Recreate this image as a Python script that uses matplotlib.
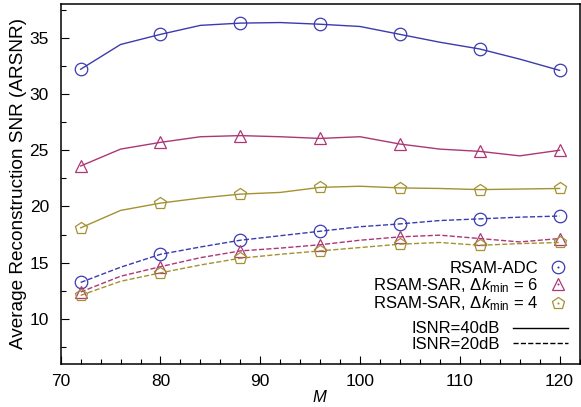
import matplotlib
matplotlib.use("Agg")
import matplotlib.pyplot as plt
from matplotlib.lines import Line2D
from matplotlib.ticker import MultipleLocator

# data
M = [72, 76, 80, 84, 88, 92, 96, 100, 104, 108, 112, 116, 120]

adc_40 = [32.2, 34.4, 35.3, 36.1, 36.3, 36.35, 36.2, 36.0, 35.3, 34.6, 34.0, 33.1, 32.1]
sar6_40 = [23.6, 25.1, 25.7, 26.2, 26.3, 26.2, 26.05, 26.2, 25.55, 25.1, 24.9, 24.5, 25.0]
sar4_40 = [18.1, 19.65, 20.3, 20.75, 21.1, 21.25, 21.7, 21.8, 21.65, 21.6, 21.5, 21.55, 21.6]

adc_20 = [13.25, 14.6, 15.75, 16.4, 17.0, 17.4, 17.8, 18.2, 18.45, 18.75, 18.9, 19.05, 19.15]
sar6_20 = [12.4, 13.8, 14.65, 15.45, 16.05, 16.3, 16.6, 17.0, 17.3, 17.45, 17.15, 16.85, 17.15]
sar4_20 = [12.1, 13.35, 14.1, 14.8, 15.4, 15.75, 16.05, 16.35, 16.65, 16.8, 16.55, 16.7, 16.8]

blue = "#3b3bb0"
purple = "#ad3676"
olive = "#a39232"

plt.rcParams["font.family"] = ["Liberation Sans", "DejaVu Sans"]
plt.rcParams["mathtext.fontset"] = "custom"
plt.rcParams["mathtext.rm"] = "Liberation Sans"
plt.rcParams["mathtext.it"] = "Liberation Sans:italic"
plt.rcParams["font.size"] = 12

fig = plt.figure(figsize=(5.81, 4.07), dpi=100)
ax = fig.add_axes([0.1045, 0.1057, 0.893, 0.8845])

series = [
    (adc_40, blue, "o", "-"),
    (sar6_40, purple, "^", "-"),
    (sar4_40, olive, "p", "-"),
    (adc_20, blue, "o", "--"),
    (sar6_20, purple, "^", "--"),
    (sar4_20, olive, "p", "--"),
]
for vals, c, mk, ls in series:
    ax.plot(M, vals, color=c, ls=ls, lw=1.0)
    ax.plot(M[::2], vals[::2], color=c, ls="none", marker=mk, ms=9,
            mfc="none", mec=c, mew=0.9)

ax.set_xlim(70, 122)
ax.set_ylim(6, 38)
ax.xaxis.set_major_locator(MultipleLocator(10))
ax.xaxis.set_minor_locator(MultipleLocator(2))
ax.yaxis.set_major_locator(MultipleLocator(5))
ax.yaxis.set_minor_locator(MultipleLocator(2.5))
ax.tick_params(which="both", direction="in", top=False, right=False,
               labelsize=12.5)
ax.tick_params(which="major", length=5.8, width=0.8)
ax.tick_params(which="minor", length=3.6, width=0.8)
ax.tick_params(axis="y", pad=8.5)
ax.tick_params(axis="x", pad=7)
for s in ax.spines.values():
    s.set_linewidth(1.1)

ax.set_xlabel("$\\mathit{M}$", labelpad=0)
ax.set_ylabel("Average Reconstruction SNR (ARSNR)", fontsize=13.7, labelpad=2)


def mark(mk, c):
    ring = Line2D([], [], ls="none", marker=mk, ms=9, mfc="none", mec=c, mew=0.9)
    dot = Line2D([], [], ls="none", marker="o", ms=1.5, mfc=c, mec=c, mew=0)
    return (ring, dot)


h1 = [mark("o", blue), mark("^", purple), mark("p", olive)]
l1 = ["RSAM-ADC",
      "RSAM-SAR, $\\mathit{\\Delta k}_{\\mathrm{min}}$ = 6",
      "RSAM-SAR, $\\mathit{\\Delta k}_{\\mathrm{min}}$ = 4"]
leg1 = ax.legend(h1, l1, loc="lower right", bbox_to_anchor=(1.0, 0.108),
                 frameon=False, markerfirst=False, handlelength=1.2,
                 handletextpad=0.6, labelspacing=0.0, borderaxespad=0.3)
ax.add_artist(leg1)

h2 = [Line2D([], [], color="black", ls="-", lw=1.0),
      Line2D([], [], color="black", ls="--", lw=1.0)]
l2 = ["ISNR=40dB", "ISNR=20dB"]
ax.legend(h2, l2, loc="lower right", bbox_to_anchor=(1.0, 0.0),
          frameon=False, markerfirst=False, handlelength=3.3,
          handletextpad=0.8, labelspacing=0.05, borderaxespad=0.3)

fig.savefig("out.png", dpi=100)
